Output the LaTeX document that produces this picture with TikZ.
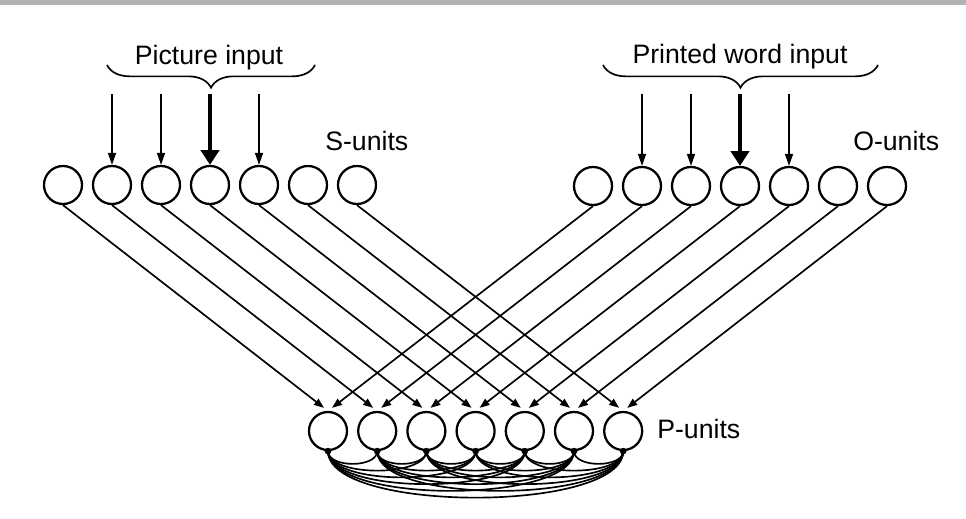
\documentclass[tikz,border=0pt]{standalone}
\usepackage{fontspec}
\setmainfont{Liberation Sans}
\usetikzlibrary{arrows.meta,calc,decorations.pathreplacing}
\definecolor{barGray}{RGB}{178,178,178}
\tikzset{
  unit/.style={circle,draw,line width=1.7pt,minimum size=28.5pt,inner sep=0pt},
  junction/.style={circle,fill,minimum size=5pt,inner sep=0pt},
  link/.style={line width=1.25pt,-{Triangle[length=7.5pt,width=5.5pt]}},
  feed/.style={line width=1.25pt,-{Triangle[length=9pt,width=6pt]}},
  strongfeed/.style={line width=3pt,-{Triangle[length=11pt,width=13.5pt]}},
  lateral/.style={line width=1.25pt},
  inbrace/.style={line width=1.25pt,decorate,decoration={brace,amplitude=17pt,mirror}},
  unittext/.style={inner sep=0pt,font=\fontsize{20}{24}\selectfont}
}
\begin{document}
\begin{tikzpicture}[x=0.75pt,y=0.75pt,yscale=-1,xscale=1]
\useasboundingbox (0,0) rectangle (966,518);
\fill[barGray] (0,0) rectangle (966,4.5);

%Shape: Circle  (S-units)
\node[unit] (s1) at (63,185) {};
\node[unit] (s2) at (112,185) {};
\node[unit] (s3) at (161,185) {};
\node[unit] (s4) at (210,185) {};
\node[unit] (s5) at (259,185) {};
\node[unit] (s6) at (308,185) {};
\node[unit] (s7) at (357,185) {};

%Shape: Circle  (O-units)
\node[unit] (o1) at (593,186) {};
\node[unit] (o2) at (642,186) {};
\node[unit] (o3) at (691,186) {};
\node[unit] (o4) at (740,186) {};
\node[unit] (o5) at (789,186) {};
\node[unit] (o6) at (838,186) {};
\node[unit] (o7) at (887,186) {};

%Shape: Circle  (P-units)
\node[unit] (p1) at (328,431) {};
\node[unit] (p2) at (377.2,431) {};
\node[unit] (p3) at (426.4,431) {};
\node[unit] (p4) at (475.6,431) {};
\node[unit] (p5) at (524.8,431) {};
\node[unit] (p6) at (574,431) {};
\node[unit] (p7) at (623.2,431) {};

%Shape: Dots under the P-units
\node[junction] (d1) at (p1.south) {};
\node[junction] (d2) at (p2.south) {};
\node[junction] (d3) at (p3.south) {};
\node[junction] (d4) at (p4.south) {};
\node[junction] (d5) at (p5.south) {};
\node[junction] (d6) at (p6.south) {};
\node[junction] (d7) at (p7.south) {};

%Braces
\coordinate (pb1) at (107,65);
\coordinate (pb2) at (315,65);
\coordinate (wb1) at (603,65);
\coordinate (wb2) at (878,65);
\draw[inbrace] (pb1) -- (pb2);
\draw[inbrace] (wb1) -- (wb2);

%Straight Lines  (inputs)
\coordinate (ps2) at (112,94);
\coordinate (ps3) at (161,94);
\coordinate (ps4) at (210,94);
\coordinate (ps5) at (259,94);
\coordinate (wo2) at (642,94);
\coordinate (wo3) at (691,94);
\coordinate (wo4) at (740,94);
\coordinate (wo5) at (789,94);
\draw[feed] (ps2) -- (s2.north);
\draw[feed] (ps3) -- (s3.north);
\draw[strongfeed] (ps4) -- (s4.north);
\draw[feed] (ps5) -- (s5.north);
\draw[feed] (wo2) -- (o2.north);
\draw[feed] (wo3) -- (o3.north);
\draw[strongfeed] (wo4) -- (o4.north);
\draw[feed] (wo5) -- (o5.north);

%Straight Lines  (S to P)
\draw[link] (s1.south) -- ($(p1.north)+(-4,-3)$);
\draw[link] (s2.south) -- ($(p2.north)+(-4,-3)$);
\draw[link] (s3.south) -- ($(p3.north)+(-4,-3)$);
\draw[link] (s4.south) -- ($(p4.north)+(-4,-3)$);
\draw[link] (s5.south) -- ($(p5.north)+(-4,-3)$);
\draw[link] (s6.south) -- ($(p6.north)+(-4,-3)$);
\draw[link] (s7.south) -- ($(p7.north)+(-4,-3)$);

%Straight Lines  (O to P)
\draw[link] (o1.south) -- ($(p1.north)+(4,-3)$);
\draw[link] (o2.south) -- ($(p2.north)+(4,-3)$);
\draw[link] (o3.south) -- ($(p3.north)+(4,-3)$);
\draw[link] (o4.south) -- ($(p4.north)+(4,-3)$);
\draw[link] (o5.south) -- ($(p5.north)+(4,-3)$);
\draw[link] (o6.south) -- ($(p6.north)+(4,-3)$);
\draw[link] (o7.south) -- ($(p7.north)+(4,-3)$);

%Curve Lines  (P to P)
\draw[lateral] (d1.center) .. controls +(0,17) and +(0,17) .. (d2.center);
\draw[lateral] (d2.center) .. controls +(0,17) and +(0,17) .. (d3.center);
\draw[lateral] (d3.center) .. controls +(0,17) and +(0,17) .. (d4.center);
\draw[lateral] (d4.center) .. controls +(0,17) and +(0,17) .. (d5.center);
\draw[lateral] (d5.center) .. controls +(0,17) and +(0,17) .. (d6.center);
\draw[lateral] (d6.center) .. controls +(0,17) and +(0,17) .. (d7.center);
\draw[lateral] (d1.center) .. controls +(0,26) and +(0,26) .. (d3.center);
\draw[lateral] (d2.center) .. controls +(0,26) and +(0,26) .. (d4.center);
\draw[lateral] (d3.center) .. controls +(0,26) and +(0,26) .. (d5.center);
\draw[lateral] (d4.center) .. controls +(0,26) and +(0,26) .. (d6.center);
\draw[lateral] (d5.center) .. controls +(0,26) and +(0,26) .. (d7.center);
\draw[lateral] (d1.center) .. controls +(0,35) and +(0,35) .. (d4.center);
\draw[lateral] (d2.center) .. controls +(0,35) and +(0,35) .. (d5.center);
\draw[lateral] (d3.center) .. controls +(0,35) and +(0,35) .. (d6.center);
\draw[lateral] (d4.center) .. controls +(0,35) and +(0,35) .. (d7.center);
\draw[lateral] (d1.center) .. controls +(0,44) and +(0,44) .. (d5.center);
\draw[lateral] (d2.center) .. controls +(0,44) and +(0,44) .. (d6.center);
\draw[lateral] (d3.center) .. controls +(0,44) and +(0,44) .. (d7.center);
\draw[lateral] (d1.center) .. controls +(0,53) and +(0,53) .. (d6.center);
\draw[lateral] (d2.center) .. controls +(0,53) and +(0,53) .. (d7.center);
\draw[lateral] (d1.center) .. controls +(0,62) and +(0,62) .. (d7.center);

% Text Node
\node[unittext,anchor=base] (pictext) at (209,64) {Picture input};
% Text Node
\node[unittext,anchor=base] (wordtext) at (740,63) {Printed word input};
% Text Node
\node[unittext,anchor=base west] (stext) at (325,150) {S-units};
% Text Node
\node[unittext,anchor=base west] (otext) at (853,150) {O-units};
% Text Node
\node[unittext,anchor=base west] (ptext) at (657,438) {P-units};

\end{tikzpicture}
\end{document}
